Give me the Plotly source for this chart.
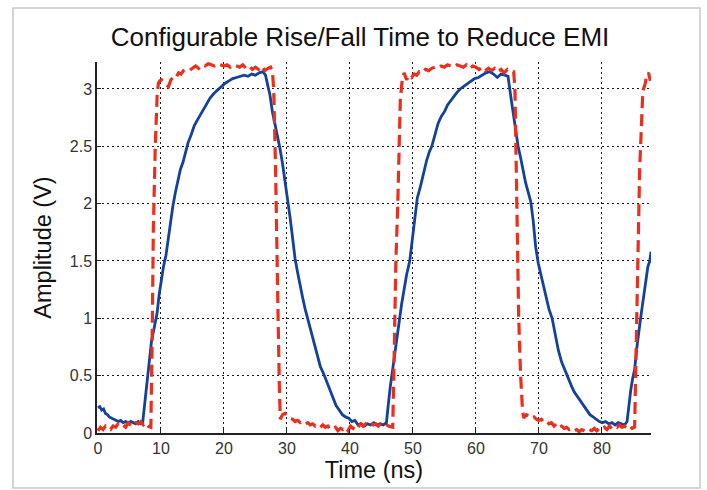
import plotly.graph_objects as go

# ── Data (time in ns, amplitude in V) ────────────────────────────────────────
slow_t = [
    0.0, 0.3, 0.6, 0.9, 1.2, 1.5, 1.8, 2.1, 2.4, 2.8, 3.2, 3.6, 4.0, 4.4, 4.8, 5.2,
    5.6, 6.0, 6.4, 6.8, 7.1, 7.3, 7.6, 7.9, 8.2, 8.5, 8.8, 9.1, 9.4, 9.7, 10.0, 10.4,
    10.8, 11.1, 11.5, 11.9, 12.3, 12.7, 13.1, 13.5, 13.9, 14.3, 14.8, 15.3, 15.8, 16.3,
    16.8, 17.3, 17.8, 18.4, 19.0, 19.6, 20.2, 20.8, 21.4, 22.0, 22.6, 23.2, 23.8, 24.4,
    25.0, 25.6, 26.2, 26.6, 27.0, 27.3, 27.7, 28.1, 28.5, 28.9, 29.3, 29.7, 30.1, 30.5,
    30.9, 31.3, 31.7, 32.1, 32.5, 32.9, 33.3, 33.8, 34.3, 34.8, 35.3, 35.8, 36.3, 36.8,
    37.3, 37.8, 38.3, 38.8, 39.3, 39.8, 40.3, 40.8, 41.3, 41.8, 42.3, 42.8, 43.3, 43.8,
    44.3, 44.8, 45.3, 45.8, 46.0, 46.2, 46.4, 46.7, 47.0, 47.3, 47.6, 47.9, 48.2, 48.6,
    49.0, 49.5, 49.9, 50.3, 50.7, 51.2, 51.7, 52.2, 52.6, 53.0, 53.5, 54.0, 54.5, 55.0,
    55.5, 56.0, 56.5, 57.0, 57.5, 58.0, 58.6, 59.2, 59.8, 60.4, 61.0, 61.6, 62.2, 62.8,
    63.4, 64.0, 64.6, 65.1, 65.5, 65.9, 66.3, 66.7, 67.1, 67.5, 67.9, 68.3, 68.7, 69.1,
    69.5, 69.9, 70.3, 70.7, 71.1, 71.6, 72.1, 72.6, 73.1, 73.6, 74.1, 74.6, 75.1, 75.6,
    76.1, 76.6, 77.1, 77.6, 78.1, 78.6, 79.1, 79.6, 80.1, 80.6, 81.1, 81.6, 82.1, 82.6,
    83.1, 83.6, 84.0, 84.3, 84.6, 84.9, 85.2, 85.5, 85.8, 86.1, 86.4, 86.7, 87.0, 87.3,
    87.6, 87.8,
]
slow_v = [
    0.22, 0.23, 0.20, 0.21, 0.17, 0.16, 0.14, 0.13, 0.12, 0.11, 0.10, 0.11, 0.09, 0.10, 0.08, 0.10,
    0.09, 0.08, 0.10, 0.08, 0.09, 0.20, 0.35, 0.50, 0.68, 0.80, 0.88, 0.97, 1.05, 1.20, 1.32, 1.45,
    1.55, 1.68, 1.85, 1.98, 2.10, 2.20, 2.30, 2.36, 2.45, 2.53, 2.60, 2.68, 2.73, 2.78,
    2.82, 2.88, 2.92, 2.96, 2.99, 3.02, 3.05, 3.07, 3.09, 3.10, 3.11, 3.12, 3.11, 3.13,
    3.12, 3.14, 3.15, 3.12, 3.02, 2.95, 2.80, 2.70, 2.58, 2.48, 2.35, 2.20, 2.05, 1.88,
    1.70, 1.52, 1.40, 1.28, 1.18, 1.08, 1.00, 0.88, 0.78, 0.68, 0.58, 0.52, 0.45, 0.38,
    0.30, 0.24, 0.20, 0.16, 0.14, 0.13, 0.10, 0.11, 0.07, 0.08, 0.06, 0.08, 0.07, 0.09,
    0.07, 0.08, 0.07, 0.09, 0.20, 0.32, 0.40, 0.52, 0.65, 0.78, 0.90, 1.00, 1.12, 1.25,
    1.38, 1.50, 1.70, 1.85, 2.05, 2.15, 2.28, 2.38, 2.45, 2.50, 2.60, 2.70, 2.76, 2.80,
    2.86, 2.90, 2.94, 2.97, 3.00, 3.02, 3.05, 3.07, 3.09, 3.10, 3.12, 3.14, 3.15, 3.13,
    3.10, 3.13, 3.12, 3.11, 2.95, 2.80, 2.65, 2.50, 2.40, 2.28, 2.18, 2.10, 2.02, 1.85,
    1.62, 1.48, 1.38, 1.28, 1.18, 1.08, 1.00, 0.85, 0.72, 0.62, 0.55, 0.48, 0.42, 0.36,
    0.32, 0.27, 0.24, 0.20, 0.16, 0.14, 0.12, 0.10, 0.09, 0.10, 0.08, 0.09, 0.07, 0.09,
    0.08, 0.07, 0.10, 0.25, 0.38, 0.48, 0.55, 0.72, 0.88, 0.98, 1.10, 1.22, 1.35, 1.45,
    1.50, 1.58,
]

fast_t = [
    0.0, 0.4, 0.8, 1.2, 1.6, 2.0, 2.4, 2.8, 3.2, 3.6, 4.0, 4.4, 4.8, 5.2, 5.6, 6.0,
    6.4, 6.8, 7.2, 7.6, 8.0, 8.4, 8.6, 8.8, 9.1, 9.4, 9.6, 9.8, 10.1, 10.5, 10.9, 11.2,
    11.6, 12.0, 12.4, 12.8, 13.2, 13.6, 14.0, 14.5, 15.0, 15.5, 16.0, 16.5, 17.0, 17.5,
    18.0, 18.5, 19.0, 19.5, 20.0, 20.5, 21.0, 21.5, 22.0, 22.5, 23.0, 23.5, 24.0, 24.5,
    25.0, 25.5, 26.0, 26.5, 27.0, 27.4, 27.7, 27.9, 28.2, 28.4, 28.6, 28.8, 28.95, 29.3,
    29.7, 30.1, 30.5, 30.9, 31.3, 31.7, 32.1, 32.5, 32.9, 33.3, 33.7, 34.1, 34.5, 34.9,
    35.3, 35.7, 36.1, 36.5, 36.9, 37.3, 37.7, 38.1, 38.5, 38.9, 39.3, 39.7, 40.1, 40.5,
    40.9, 41.3, 41.7, 42.1, 42.5, 42.9, 43.3, 43.7, 44.1, 44.5, 44.9, 45.3, 45.7, 46.1,
    46.5, 46.8, 47.0, 47.3, 47.6, 48.0, 48.3, 48.6, 49.0, 49.4, 49.8, 50.2, 50.6, 51.0,
    51.5, 52.0, 52.5, 53.0, 53.5, 54.0, 54.5, 55.0, 55.5, 56.0, 56.5, 57.0, 57.5, 58.0,
    58.5, 59.0, 59.5, 60.0, 60.5, 61.0, 61.5, 62.0, 62.5, 63.0, 63.5, 64.0, 64.5, 65.0,
    65.5, 66.0, 66.2, 66.5, 66.8, 67.1, 67.4, 67.6, 68.0, 68.4, 68.8, 69.2, 69.6, 70.0,
    70.4, 70.8, 71.2, 71.6, 72.0, 72.4, 72.8, 73.2, 73.6, 74.0, 74.4, 74.8, 75.2, 75.6,
    76.0, 76.4, 76.8, 77.2, 77.6, 78.0, 78.4, 78.8, 79.2, 79.6, 80.0, 80.4, 80.8, 81.2,
    81.6, 82.0, 82.4, 82.8, 83.2, 83.6, 84.0, 84.4, 84.8, 85.2, 85.5, 85.8, 86.0, 86.5,
    86.9, 87.1, 87.4, 87.7,
]
fast_v = [
    0.02, 0.05, 0.03, 0.06, 0.04, 0.03, 0.06, 0.05, 0.08, 0.06, 0.07, 0.05, 0.09, 0.07, 0.06, 0.09,
    0.08, 0.10, 0.07, 0.09, 0.06, 0.05, 0.80, 1.80, 2.50, 2.95, 3.05, 3.07, 3.08, 3.06, 3.04, 3.02,
    3.08, 3.11, 3.10, 3.14, 3.13, 3.16, 3.17, 3.16, 3.18, 3.20, 3.18, 3.21, 3.20, 3.22,
    3.21, 3.20, 3.22, 3.21, 3.20, 3.21, 3.19, 3.21, 3.20, 3.19, 3.21, 3.18, 3.20, 3.17,
    3.19, 3.17, 3.20, 3.16, 3.18, 3.19, 3.15, 3.00, 2.30, 1.80, 1.00, 0.40, 0.12, 0.16,
    0.17, 0.15, 0.13, 0.12, 0.10, 0.11, 0.09, 0.10, 0.08, 0.09, 0.07, 0.08, 0.06, 0.07,
    0.05, 0.07, 0.05, 0.06, 0.03, 0.04, 0.05, 0.02, 0.04, 0.03, 0.05, 0.02, 0.06, 0.04,
    0.07, 0.05, 0.08, 0.06, 0.08, 0.07, 0.09, 0.07, 0.08, 0.06, 0.08, 0.07, 0.08, 0.06,
    0.05, 0.05, 0.60, 1.50, 2.00, 2.90, 3.08, 3.14, 3.08, 3.12, 3.10, 3.13, 3.12, 3.15,
    3.14, 3.17, 3.16, 3.18, 3.19, 3.18, 3.20, 3.19, 3.21, 3.20, 3.19, 3.21, 3.20, 3.19,
    3.21, 3.18, 3.20, 3.19, 3.17, 3.19, 3.16, 3.18, 3.16, 3.18, 3.15, 3.17, 3.14, 3.17,
    3.15, 3.15, 3.00, 1.80, 1.00, 0.50, 0.20, 0.13, 0.16, 0.15, 0.13, 0.14, 0.12, 0.11,
    0.12, 0.09, 0.10, 0.08, 0.09, 0.06, 0.08, 0.05, 0.06, 0.04, 0.05, 0.03, 0.04, 0.02,
    0.03, 0.01, 0.03, 0.02, 0.01, 0.03, 0.02, 0.04, 0.02, 0.04, 0.03, 0.05, 0.03, 0.06,
    0.04, 0.06, 0.05, 0.07, 0.05, 0.06, 0.04, 0.06, 0.04, 0.05, 0.80, 1.60, 2.30, 2.98,
    3.05, 3.12, 3.14, 3.07,
]

x_ticks = [0, 10, 20, 30, 40, 50, 60, 70, 80]
y_ticks = [0, 0.5, 1, 1.5, 2, 2.5, 3]
y_tick_text = ["0", "0.5", "1", "1.5", "2", "2.5", "3"]

# ── Layout geometry (px) ─────────────────────────────────────────────────────
W, H = 707, 490
ML, MR, MT, MB = 97, 56, 62, 57
PW, PH = W - ML - MR, H - MT - MB
FONT = "Liberation Sans, Arial, sans-serif"


def px_x(x):
    return (x - ML) / PW


def px_y(y):
    return (H - MB - y) / PH


fig = go.Figure()
fig.add_trace(go.Scatter(
    x=slow_t, y=slow_v, mode="lines", name="Slow edge",
    line=dict(color="#12429e", width=2.8),
))
fig.add_trace(go.Scatter(
    x=fast_t, y=fast_v, mode="lines", name="Fast edge",
    line=dict(color="#ec2f1c", width=3.2, dash="12px,6px"),
))

grid = dict(showgrid=True, gridcolor="#1a1a1a", gridwidth=1.4, griddash="2px,3px")
tickfont = dict(family=FONT, size=16, color="#333")

fig.update_xaxes(
    range=[-0.15, 87.8], tickvals=x_ticks, ticks="inside", ticklen=4, tickcolor="#222",
    showline=True, linecolor="#222", linewidth=1.5, zeroline=False, tickfont=tickfont,
    title=dict(text="Time (ns)", standoff=6, font=dict(family=FONT, size=23.5, color="#111")),
    **grid,
)
fig.update_yaxes(
    range=[0, 3.235], tickvals=y_ticks, ticktext=y_tick_text, ticks="inside", ticklen=4,
    tickcolor="#222", showline=True, linecolor="#222", linewidth=1.5, zeroline=False,
    tickfont=tickfont,
    title=dict(text="Amplitude (V)", standoff=12, font=dict(family=FONT, size=23.5, color="#111")),
    **grid,
)

fig.update_layout(
    width=W, height=H,
    margin=dict(l=ML, r=MR, t=MT, b=MB),
    paper_bgcolor="white", plot_bgcolor="white",
    showlegend=False,
    title=dict(
        text="Configurable Rise/Fall Time to Reduce EMI",
        x=px_x(360), xref="paper", xanchor="center",
        y=1 - 37 / H, yanchor="middle",
        font=dict(family=FONT, size=26, color="#111"),
    ),
    # light frame around the whole picture
    shapes=[dict(
        type="rect", xref="paper", yref="paper",
        x0=px_x(13), x1=px_x(700), y0=px_y(488), y1=px_y(8),
        line=dict(color="#c8c8c8", width=1.5), fillcolor="rgba(0,0,0,0)", layer="below",
    )],
)

# drop the browser's default body margin so the figure sits at (0, 0)
fig.write_html(
    "out.html",
    config={"displayModeBar": False},
    post_script="document.body.style.margin='0';",
)
